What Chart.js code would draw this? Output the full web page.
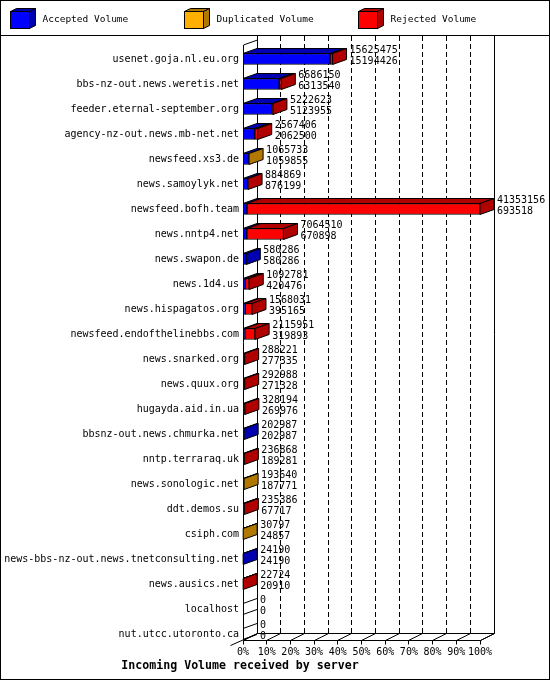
<!DOCTYPE html>
<html>
<head>
<meta charset="utf-8">
<script src="https://cdn.jsdelivr.net/npm/chart.js@4.4.1/dist/chart.umd.min.js"></script>
<style>
  html, body { margin: 0; padding: 0; background: #fff; }
  canvas { display: block; }
</style>
</head>
<body>
<canvas id="volumeChart" width="550" height="680"></canvas>
<script>
// INCOMING VOLUME BY SERVER
const servers = [
  "usenet.goja.nl.eu.org", "bbs-nz-out.news.weretis.net", "feeder.eternal-september.org",
  "agency-nz-out.news.mb-net.net", "newsfeed.xs3.de", "news.samoylyk.net",
  "newsfeed.bofh.team", "news.nntp4.net", "news.swapon.de", "news.1d4.us",
  "news.hispagatos.org", "newsfeed.endofthelinebbs.com", "news.snarked.org",
  "news.quux.org", "hugayda.aid.in.ua", "bbsnz-out.news.chmurka.net",
  "nntp.terraraq.uk", "news.sonologic.net", "ddt.demos.su", "csiph.com",
  "news-bbs-nz-out.news.tnetconsulting.net", "news.ausics.net", "localhost",
  "nut.utcc.utoronto.ca"
];
const totalVolume = [
  15625475, 6686150, 5222623, 2567406, 1065733, 884869, 41353156, 7064510,
  580286, 1092781, 1568031, 2115951, 288221, 292988, 328194, 202987,
  236868, 193640, 235386, 30797, 24190, 22724, 0, 0
];
const acceptedVolume = [
  15194426, 6313540, 5123955, 2062500, 1059855, 876199, 693518, 670898,
  580286, 420476, 395165, 319893, 277335, 271328, 269976, 202987,
  189281, 187771, 67717, 24857, 24190, 20910, 0, 0
];
const duplicatedVolume = [
  0, 0, 0, 0, 5878, 0, 0, 0,
  0, 0, 0, 0, 0, 0, 0, 0,
  0, 5869, 0, 5940, 0, 0, 0, 0
];
const rejectedVolume = [
  431049, 372610, 98668, 504906, 0, 8670, 40659638, 6393612,
  0, 672305, 1172866, 1796058, 10886, 21660, 58218, 0,
  47587, 0, 167669, 0, 0, 1814, 0, 0
];
const percentTicks = ["0%", "10%", "20%", "30%", "40%", "50%", "60%", "70%", "80%", "90%", "100%"];

const maxVolume = Math.max(...totalVolume);
const toPercent = arr => arr.map(v => v / maxVolume * 100);

const MONO = '"DejaVu Sans Mono", "Liberation Mono", monospace';
const DX = 14, DY = 5;

function quad(ctx, pts, fill) {
  ctx.beginPath();
  ctx.moveTo(pts[0][0], pts[0][1]);
  for (let i = 1; i < pts.length; i++) ctx.lineTo(pts[i][0], pts[i][1]);
  ctx.closePath();
  if (fill) { ctx.fillStyle = fill; ctx.fill(); }
  ctx.stroke();
}
function line(ctx, x1, y1, x2, y2) {
  ctx.beginPath(); ctx.moveTo(x1, y1); ctx.lineTo(x2, y2); ctx.stroke();
}
const snap = v => Math.floor(v) + 0.5;

const box3d = {
  id: "box3d",
  // walls, floor and dashed grid behind the bars
  beforeDatasetsDraw(chart) {
    const { ctx, chartArea, scales: { x } } = chart;
    const floorFront = snap(chartArea.bottom - 6);
    const floorBack = floorFront - 7;
    const topY = 36;
    ctx.save();
    ctx.strokeStyle = "#000";
    ctx.lineWidth = 1;
    const x0 = snap(x.getPixelForValue(0));
    const x100 = snap(x.getPixelForValue(100));
    // dashed grid on the back wall
    ctx.setLineDash([5, 3]);
    for (let v = 10; v < 100; v += 10) {
      const gx = snap(x.getPixelForValue(v) + DX);
      line(ctx, gx, topY, gx, floorBack);
    }
    ctx.setLineDash([]);
    // walls
    line(ctx, x0 + DX, topY, x0 + DX, floorBack);
    line(ctx, x100 + DX, topY, x100 + DX, floorBack);
    line(ctx, x0, topY + 9, x0, floorFront);
    line(ctx, x0, topY + 9, x0 + DX, topY + 4);
    // floor
    line(ctx, x0, floorFront, x100, floorFront);
    line(ctx, x0 + DX, floorBack, x100 + DX, floorBack);
    line(ctx, x100, floorFront, x100 + DX, floorBack);
    line(ctx, x0 - 13, floorFront + 5, x0 + DX, floorBack);
    // ticks
    for (let v = 0; v <= 100; v += 10) {
      const tx = snap(x.getPixelForValue(v));
      line(ctx, tx, floorFront, tx, floorFront + 4);
      line(ctx, tx, floorFront, tx + DX, floorBack);
    }
    ctx.restore();
  },
  // top and side faces, value labels
  afterDatasetsDraw(chart) {
    const { ctx, scales: { x } } = chart;
    const datasets = chart.data.datasets;
    ctx.save();
    ctx.strokeStyle = "#000";
    ctx.lineWidth = 1;
    servers.forEach((name, row) => {
      let end = x.getPixelForValue(0), top = 0, bottom = 0, cy = 0, last = null;
      datasets.forEach((ds, d) => {
        const bar = chart.getDatasetMeta(d).data[row];
        const p = bar.getProps(["x", "base", "y", "height"], true);
        cy = p.y; top = p.y - p.height / 2; bottom = p.y + p.height / 2;
        if (!ds.data[row]) return;
        quad(ctx, [[p.base, top], [p.base + DX, top - DY], [p.x + DX, top - DY], [p.x, top]], ds.sideColor);
        end = p.x; last = ds.sideColor;
      });
      if (last) {
        quad(ctx, [[end, top], [end + DX, top - DY], [end + DX, bottom - DY], [end, bottom]], last);
      } else {
        line(ctx, end, top, end + DX, top - DY);
        line(ctx, end, bottom, end + DX, bottom - DY);
      }
      ctx.fillStyle = "#000";
      ctx.font = "10px " + MONO;
      ctx.textAlign = "left";
      ctx.textBaseline = "middle";
      ctx.fillText(String(totalVolume[row]), end + DX + 3, cy - 9);
      ctx.fillText(String(acceptedVolume[row]), end + DX + 3, cy + 2);
    });
    ctx.restore();
  },
  // legend strip and frame
  afterDraw(chart) {
    const { ctx, width, height } = chart;
    ctx.save();
    ctx.strokeStyle = "#000";
    ctx.lineWidth = 1;
    chart.data.datasets.forEach((ds, i) => {
      const lx = 10.5 + i * 174, ly = 11.5, w = 19, h = 17, dx = 6, dy = 3;
      quad(ctx, [[lx, ly], [lx + dx, ly - dy], [lx + w + dx, ly - dy], [lx + w, ly]], ds.sideColor);
      quad(ctx, [[lx + w, ly], [lx + w + dx, ly - dy], [lx + w + dx, ly + h - dy], [lx + w, ly + h]], ds.sideColor);
      ctx.fillStyle = ds.backgroundColor;
      ctx.fillRect(lx, ly, w, h);
      ctx.strokeRect(lx, ly, w, h);
      ctx.fillStyle = "#000";
      ctx.font = "9.5px " + MONO;
      ctx.textAlign = "left";
      ctx.textBaseline = "middle";
      ctx.fillText(ds.label, lx + 32, 20);
    });
    line(ctx, 0, 35.5, width, 35.5);
    ctx.strokeRect(0.5, 0.5, width - 1, height - 1);
    ctx.restore();
  }
};

new Chart(document.getElementById("volumeChart"), {
  type: "bar",
  data: {
    labels: servers,
    datasets: [
      { label: "Accepted Volume", data: toPercent(acceptedVolume), backgroundColor: "#0000FF", sideColor: "#0000B0" },
      { label: "Duplicated Volume", data: toPercent(duplicatedVolume), backgroundColor: "#FFAF00", sideColor: "#B07800" },
      { label: "Rejected Volume", data: toPercent(rejectedVolume), backgroundColor: "#FF0000", sideColor: "#B00000" }
    ]
  },
  options: {
    indexAxis: "y",
    responsive: false,
    animation: false,
    devicePixelRatio: 1,
    layout: { padding: { top: 46.5, right: 70, left: 0, bottom: 0 } },
    datasets: {
      bar: { barThickness: 11, borderWidth: 1, borderColor: "#000", borderSkipped: false }
    },
    plugins: {
      legend: { display: false },
      tooltip: { enabled: false },
      title: {
        display: true,
        position: "bottom",
        text: "Incoming Volume received by server",
        color: "#000",
        font: { family: MONO, size: 11.6, weight: "bold" },
        padding: { top: 2, bottom: 7 }
      }
    },
    scales: {
      x: {
        stacked: true,
        min: 0,
        max: 100,
        grid: { display: false, drawTicks: false },
        border: { display: false },
        afterFit: s => { s.height = 10.58; },
        ticks: {
          stepSize: 10,
          autoSkip: false,
          maxRotation: 0,
          padding: 0,
          color: "#000",
          font: { family: MONO, size: 10 },
          callback: (v, i) => percentTicks[i]
        }
      },
      y: {
        stacked: true,
        grid: { display: false, drawTicks: false },
        border: { display: false },
        afterFit: s => { s.width = 243; },
        ticks: {
          autoSkip: false,
          padding: 4,
          color: "#000",
          font: { family: MONO, size: 10 }
        }
      }
    }
  },
  plugins: [box3d]
});
</script>
</body>
</html>
